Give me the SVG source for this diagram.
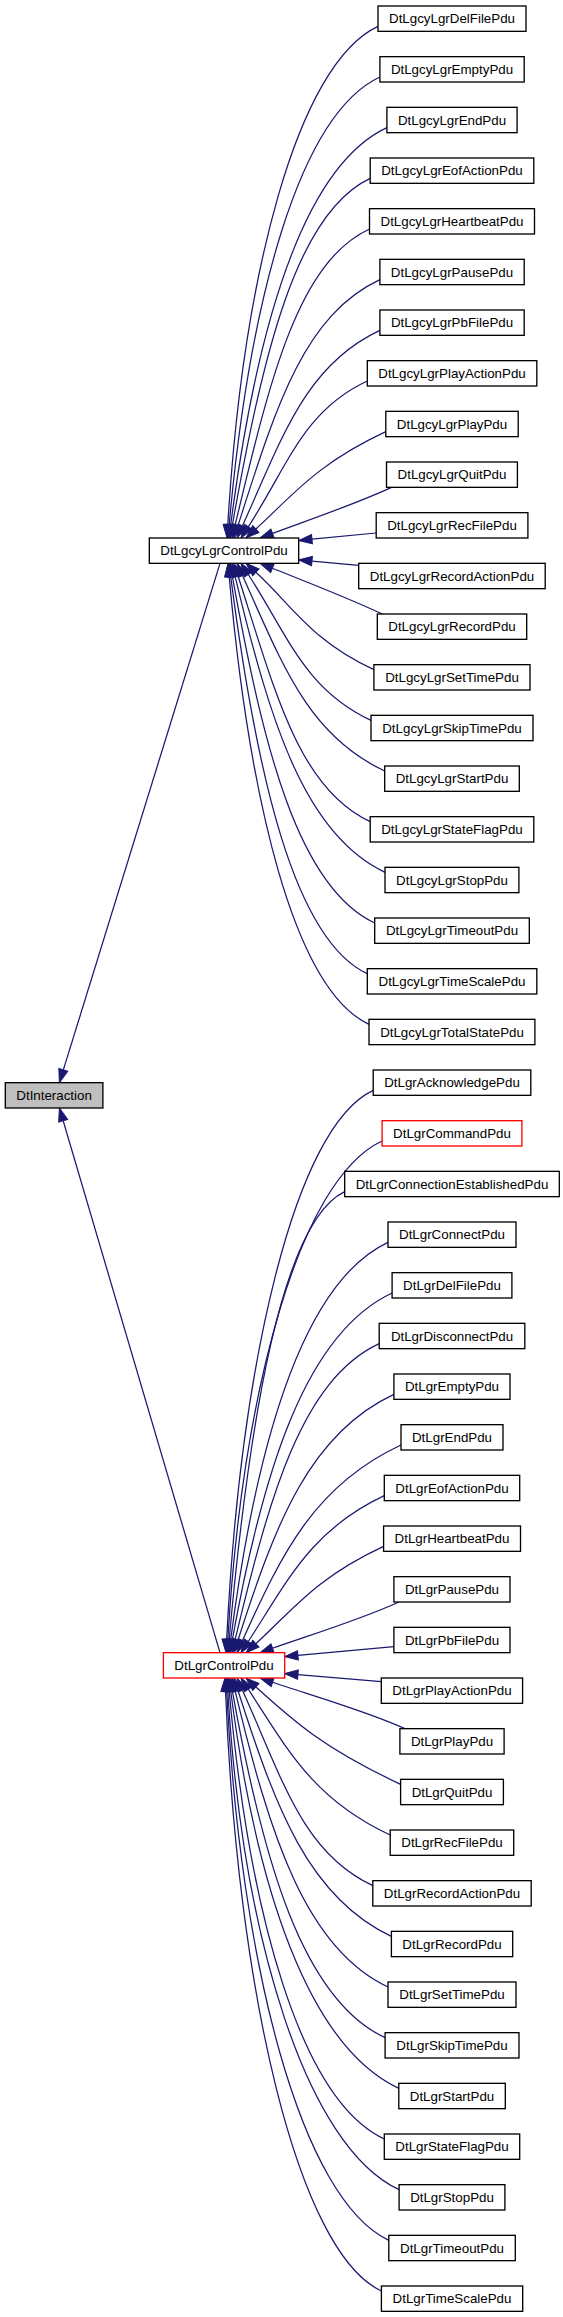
<svg xmlns="http://www.w3.org/2000/svg" width="563" height="2317" viewBox="0 0 563 2317">
<style>
.n rect{fill:#fff;stroke:#000;stroke-width:1.33}
.n.red rect{stroke:#f00}
.n.gray rect{fill:#bfbfbf}
.n text{font-family:"Liberation Sans",Arial,Helvetica,sans-serif;font-size:13.33px;text-anchor:middle;fill:#000}
#edges path{fill:none;stroke:#191970;stroke-width:1.25;marker-end:url(#arr)}
</style>
<defs>
<marker id="arr" markerUnits="userSpaceOnUse" markerWidth="14" markerHeight="10" refX="0" refY="0" orient="auto" overflow="visible">
<path d="M0,-4.67L13.33,0L0,4.67Z" fill="#191970" stroke="#191970" stroke-width="1"/>
</marker>
</defs>
<rect width="563" height="2317" fill="#fff"/>
<g id="edges">
<path d="M220,563.33L63.33,1069.94"/>
<path d="M220,1652.67L63.17,1120.79"/>
<path d="M378,26.33C296.9,64.1 242.7,275.9 227.8,524.69"/>
<path d="M379.9,77C298.4,115 249.3,301.7 229.19,524.72"/>
<path d="M386.9,127.67C302.5,167.1 256.3,327.8 230.72,524.78"/>
<path d="M370.2,178.33C295.8,213.1 263,354.3 232.36,524.88"/>
<path d="M369.5,229C296.9,262.8 269.7,381.1 235.11,525.04"/>
<path d="M379.9,279.67C303.3,315.5 275.5,408.3 238.06,525.3"/>
<path d="M379.9,330.33C305.7,364.9 282.6,436.7 242.47,525.84"/>
<path d="M367.3,381C303,411 288,465.7 248.27,526.82"/>
<path d="M385.8,431.67C315.6,464.4 291.9,496.28 255.86,529.03"/>
<path d="M391.5,487.33C355.5,504.1 310,519.4 272.5,533.36"/>
<path d="M376.2,533L311.97,539.2"/>
<path d="M358.7,565.3L311.98,561.17"/>
<path d="M382.3,614C346.3,597.2 309.5,583.1 272.38,568.26"/>
<path d="M373.9,669.67C310.2,640 291.9,605.1 255.86,572.3"/>
<path d="M371,720.33C304.6,689.3 288,635.6 248.27,574.51"/>
<path d="M384.7,771C307.9,735.1 282.6,664.7 242.47,575.49"/>
<path d="M370.2,821.67C298.8,788.4 275.5,693 238.06,576.03"/>
<path d="M385,872.33C304.1,834.5 269.6,720.2 235.11,576.29"/>
<path d="M374.7,923C297.8,887.1 263.1,747.1 232.36,576.45"/>
<path d="M367.3,973.67C293.5,939.3 256.3,773.5 230.72,576.55"/>
<path d="M369,1024.33C293.5,989 249.3,799.6 229.19,576.61"/>
<path d="M373.2,1090.33C294,1127.2 240.4,1365.2 226.67,1639.36"/>
<path d="M382.1,1141C298.7,1179.9 242.7,1390.6 227.8,1639.36"/>
<path d="M344.7,1191.67C282.3,1220.9 249.3,1416.4 229.19,1639.39"/>
<path d="M388,1242.33C303.2,1281.9 256.3,1442.5 230.72,1639.45"/>
<path d="M392.1,1293C305.8,1333.3 263.1,1469 232.36,1639.55"/>
<path d="M379.2,1343.67C301.4,1380 269.7,1495.8 235.11,1639.71"/>
<path d="M393.9,1394.33C309.8,1433.5 275.5,1523 238.06,1639.97"/>
<path d="M401,1445C315.3,1485 282.6,1551.3 242.47,1640.51"/>
<path d="M384.3,1495.67C310.9,1530.1 288,1580.4 248.27,1641.49"/>
<path d="M383.6,1546.33C314.6,1578.4 291.9,1610.9 255.86,1643.7"/>
<path d="M398.9,1602C362.9,1618.8 310.3,1634.9 272.57,1648.24"/>
<path d="M393.9,1646.7L297.93,1655.31"/>
<path d="M381.3,1681.7L297.93,1674.63"/>
<path d="M404.9,1728.67C368.9,1711.9 310.5,1695.1 272.63,1682.27"/>
<path d="M400.6,1784.33C322.4,1747.8 291.9,1719.7 255.86,1686.97"/>
<path d="M390.2,1835C313.5,1799.2 288,1750.3 248.27,1689.18"/>
<path d="M372.8,1885.67C302.4,1852.9 282.6,1779.3 242.47,1690.16"/>
<path d="M391.4,1936.33C308.6,1897.6 275.5,1807.6 238.06,1690.7"/>
<path d="M388,1987C305.4,1948.5 269.7,1834.9 235.11,1690.96"/>
<path d="M385.1,2037.67C302.5,1999.2 263.1,1861.7 232.36,1691.12"/>
<path d="M398.8,2088.33C308.1,2045.9 256.3,1888.2 230.72,1691.22"/>
<path d="M384.3,2139C300.5,2099.9 249.3,1914.3 229.19,1691.28"/>
<path d="M399.1,2189.67C306.6,2146.5 242.7,1940.1 227.8,1691.31"/>
<path d="M388.8,2240.33C301.2,2199.3 240.4,1965.5 226.67,1691.31"/>
<path d="M381.4,2291C297.3,2251.8 237.5,1990.9 225.53,1691.32"/>
</g>
<g id="DtInteraction" class="n gray"><rect x="5.3" y="1082.67" width="97.6" height="25.33"/><text x="54.1" y="1099.97">DtInteraction</text></g>
<g id="DtLgcyLgrControlPdu" class="n"><rect x="149.3" y="538" width="149.4" height="25.33"/><text x="224" y="555.3">DtLgcyLgrControlPdu</text></g>
<g id="DtLgrControlPdu" class="n red"><rect x="163.4" y="1652.67" width="121.3" height="25.33"/><text x="224" y="1669.97">DtLgrControlPdu</text></g>
<g id="DtLgcyLgrDelFilePdu" class="n"><rect x="378" y="6" width="148" height="25.33"/><text x="452" y="23.3">DtLgcyLgrDelFilePdu</text></g>
<g id="DtLgcyLgrEmptyPdu" class="n"><rect x="379.9" y="56.67" width="144.3" height="25.33"/><text x="452" y="73.97">DtLgcyLgrEmptyPdu</text></g>
<g id="DtLgcyLgrEndPdu" class="n"><rect x="386.9" y="107.33" width="130.2" height="25.33"/><text x="452" y="124.63">DtLgcyLgrEndPdu</text></g>
<g id="DtLgcyLgrEofActionPdu" class="n"><rect x="370.2" y="158" width="163.6" height="25.33"/><text x="452" y="175.3">DtLgcyLgrEofActionPdu</text></g>
<g id="DtLgcyLgrHeartbeatPdu" class="n"><rect x="369.5" y="208.67" width="165" height="25.33"/><text x="452" y="225.97">DtLgcyLgrHeartbeatPdu</text></g>
<g id="DtLgcyLgrPausePdu" class="n"><rect x="379.9" y="259.33" width="144.3" height="25.33"/><text x="452" y="276.63">DtLgcyLgrPausePdu</text></g>
<g id="DtLgcyLgrPbFilePdu" class="n"><rect x="379.9" y="310" width="144.3" height="25.33"/><text x="452" y="327.3">DtLgcyLgrPbFilePdu</text></g>
<g id="DtLgcyLgrPlayActionPdu" class="n"><rect x="367.3" y="360.67" width="169.5" height="25.33"/><text x="452" y="377.97">DtLgcyLgrPlayActionPdu</text></g>
<g id="DtLgcyLgrPlayPdu" class="n"><rect x="385.8" y="411.33" width="132.4" height="25.33"/><text x="452" y="428.63">DtLgcyLgrPlayPdu</text></g>
<g id="DtLgcyLgrQuitPdu" class="n"><rect x="386.5" y="462" width="130.9" height="25.33"/><text x="452" y="479.3">DtLgcyLgrQuitPdu</text></g>
<g id="DtLgcyLgrRecFilePdu" class="n"><rect x="376.2" y="512.67" width="151.7" height="25.33"/><text x="452" y="529.97">DtLgcyLgrRecFilePdu</text></g>
<g id="DtLgcyLgrRecordActionPdu" class="n"><rect x="358.7" y="563.33" width="186.5" height="25.33"/><text x="452" y="580.63">DtLgcyLgrRecordActionPdu</text></g>
<g id="DtLgcyLgrRecordPdu" class="n"><rect x="377.3" y="614" width="149.4" height="25.33"/><text x="452" y="631.3">DtLgcyLgrRecordPdu</text></g>
<g id="DtLgcyLgrSetTimePdu" class="n"><rect x="373.9" y="664.67" width="156.1" height="25.33"/><text x="452" y="681.97">DtLgcyLgrSetTimePdu</text></g>
<g id="DtLgcyLgrSkipTimePdu" class="n"><rect x="371" y="715.33" width="162" height="25.33"/><text x="452" y="732.63">DtLgcyLgrSkipTimePdu</text></g>
<g id="DtLgcyLgrStartPdu" class="n"><rect x="384.7" y="766" width="134.6" height="25.33"/><text x="452" y="783.3">DtLgcyLgrStartPdu</text></g>
<g id="DtLgcyLgrStateFlagPdu" class="n"><rect x="370.2" y="816.67" width="163.6" height="25.33"/><text x="452" y="833.97">DtLgcyLgrStateFlagPdu</text></g>
<g id="DtLgcyLgrStopPdu" class="n"><rect x="385" y="867.33" width="133.9" height="25.33"/><text x="452" y="884.63">DtLgcyLgrStopPdu</text></g>
<g id="DtLgcyLgrTimeoutPdu" class="n"><rect x="374.7" y="918" width="154.6" height="25.33"/><text x="452" y="935.3">DtLgcyLgrTimeoutPdu</text></g>
<g id="DtLgcyLgrTimeScalePdu" class="n"><rect x="367.3" y="968.67" width="169.5" height="25.33"/><text x="452" y="985.97">DtLgcyLgrTimeScalePdu</text></g>
<g id="DtLgcyLgrTotalStatePdu" class="n"><rect x="369" y="1019.33" width="165.9" height="25.33"/><text x="452" y="1036.63">DtLgcyLgrTotalStatePdu</text></g>
<g id="DtLgrAcknowledgePdu" class="n"><rect x="373.2" y="1070" width="157.6" height="25.33"/><text x="452" y="1087.3">DtLgrAcknowledgePdu</text></g>
<g id="DtLgrCommandPdu" class="n red"><rect x="382.1" y="1120.67" width="139.8" height="25.33"/><text x="452" y="1137.97">DtLgrCommandPdu</text></g>
<g id="DtLgrConnectionEstablishedPdu" class="n"><rect x="344.7" y="1171.33" width="214.6" height="25.33"/><text x="452" y="1188.63">DtLgrConnectionEstablishedPdu</text></g>
<g id="DtLgrConnectPdu" class="n"><rect x="388" y="1222" width="128" height="25.33"/><text x="452" y="1239.3">DtLgrConnectPdu</text></g>
<g id="DtLgrDelFilePdu" class="n"><rect x="392.1" y="1272.67" width="119.8" height="25.33"/><text x="452" y="1289.97">DtLgrDelFilePdu</text></g>
<g id="DtLgrDisconnectPdu" class="n"><rect x="379.2" y="1323.33" width="145.6" height="25.33"/><text x="452" y="1340.63">DtLgrDisconnectPdu</text></g>
<g id="DtLgrEmptyPdu" class="n"><rect x="393.9" y="1374" width="116.1" height="25.33"/><text x="452" y="1391.3">DtLgrEmptyPdu</text></g>
<g id="DtLgrEndPdu" class="n"><rect x="401" y="1424.67" width="102" height="25.33"/><text x="452" y="1441.97">DtLgrEndPdu</text></g>
<g id="DtLgrEofActionPdu" class="n"><rect x="384.3" y="1475.33" width="135.4" height="25.33"/><text x="452" y="1492.63">DtLgrEofActionPdu</text></g>
<g id="DtLgrHeartbeatPdu" class="n"><rect x="383.6" y="1526" width="136.9" height="25.33"/><text x="452" y="1543.3">DtLgrHeartbeatPdu</text></g>
<g id="DtLgrPausePdu" class="n"><rect x="393.9" y="1576.67" width="116.1" height="25.33"/><text x="452" y="1593.97">DtLgrPausePdu</text></g>
<g id="DtLgrPbFilePdu" class="n"><rect x="393.9" y="1627.33" width="116.1" height="25.33"/><text x="452" y="1644.63">DtLgrPbFilePdu</text></g>
<g id="DtLgrPlayActionPdu" class="n"><rect x="381.3" y="1678" width="141.3" height="25.33"/><text x="452" y="1695.3">DtLgrPlayActionPdu</text></g>
<g id="DtLgrPlayPdu" class="n"><rect x="399.9" y="1728.67" width="104.2" height="25.33"/><text x="452" y="1745.97">DtLgrPlayPdu</text></g>
<g id="DtLgrQuitPdu" class="n"><rect x="400.6" y="1779.33" width="102.8" height="25.33"/><text x="452" y="1796.63">DtLgrQuitPdu</text></g>
<g id="DtLgrRecFilePdu" class="n"><rect x="390.2" y="1830" width="123.5" height="25.33"/><text x="452" y="1847.3">DtLgrRecFilePdu</text></g>
<g id="DtLgrRecordActionPdu" class="n"><rect x="372.8" y="1880.67" width="158.4" height="25.33"/><text x="452" y="1897.97">DtLgrRecordActionPdu</text></g>
<g id="DtLgrRecordPdu" class="n"><rect x="391.4" y="1931.33" width="121.3" height="25.33"/><text x="452" y="1948.63">DtLgrRecordPdu</text></g>
<g id="DtLgrSetTimePdu" class="n"><rect x="388" y="1982" width="128" height="25.33"/><text x="452" y="1999.3">DtLgrSetTimePdu</text></g>
<g id="DtLgrSkipTimePdu" class="n"><rect x="385.1" y="2032.67" width="133.9" height="25.33"/><text x="452" y="2049.97">DtLgrSkipTimePdu</text></g>
<g id="DtLgrStartPdu" class="n"><rect x="398.8" y="2083.33" width="106.5" height="25.33"/><text x="452" y="2100.63">DtLgrStartPdu</text></g>
<g id="DtLgrStateFlagPdu" class="n"><rect x="384.3" y="2134" width="135.4" height="25.33"/><text x="452" y="2151.3">DtLgrStateFlagPdu</text></g>
<g id="DtLgrStopPdu" class="n"><rect x="399.1" y="2184.67" width="105.8" height="25.33"/><text x="452" y="2201.97">DtLgrStopPdu</text></g>
<g id="DtLgrTimeoutPdu" class="n"><rect x="388.8" y="2235.33" width="126.5" height="25.33"/><text x="452" y="2252.63">DtLgrTimeoutPdu</text></g>
<g id="DtLgrTimeScalePdu" class="n"><rect x="381.4" y="2286" width="141.3" height="25.33"/><text x="452" y="2303.3">DtLgrTimeScalePdu</text></g>
</svg>
